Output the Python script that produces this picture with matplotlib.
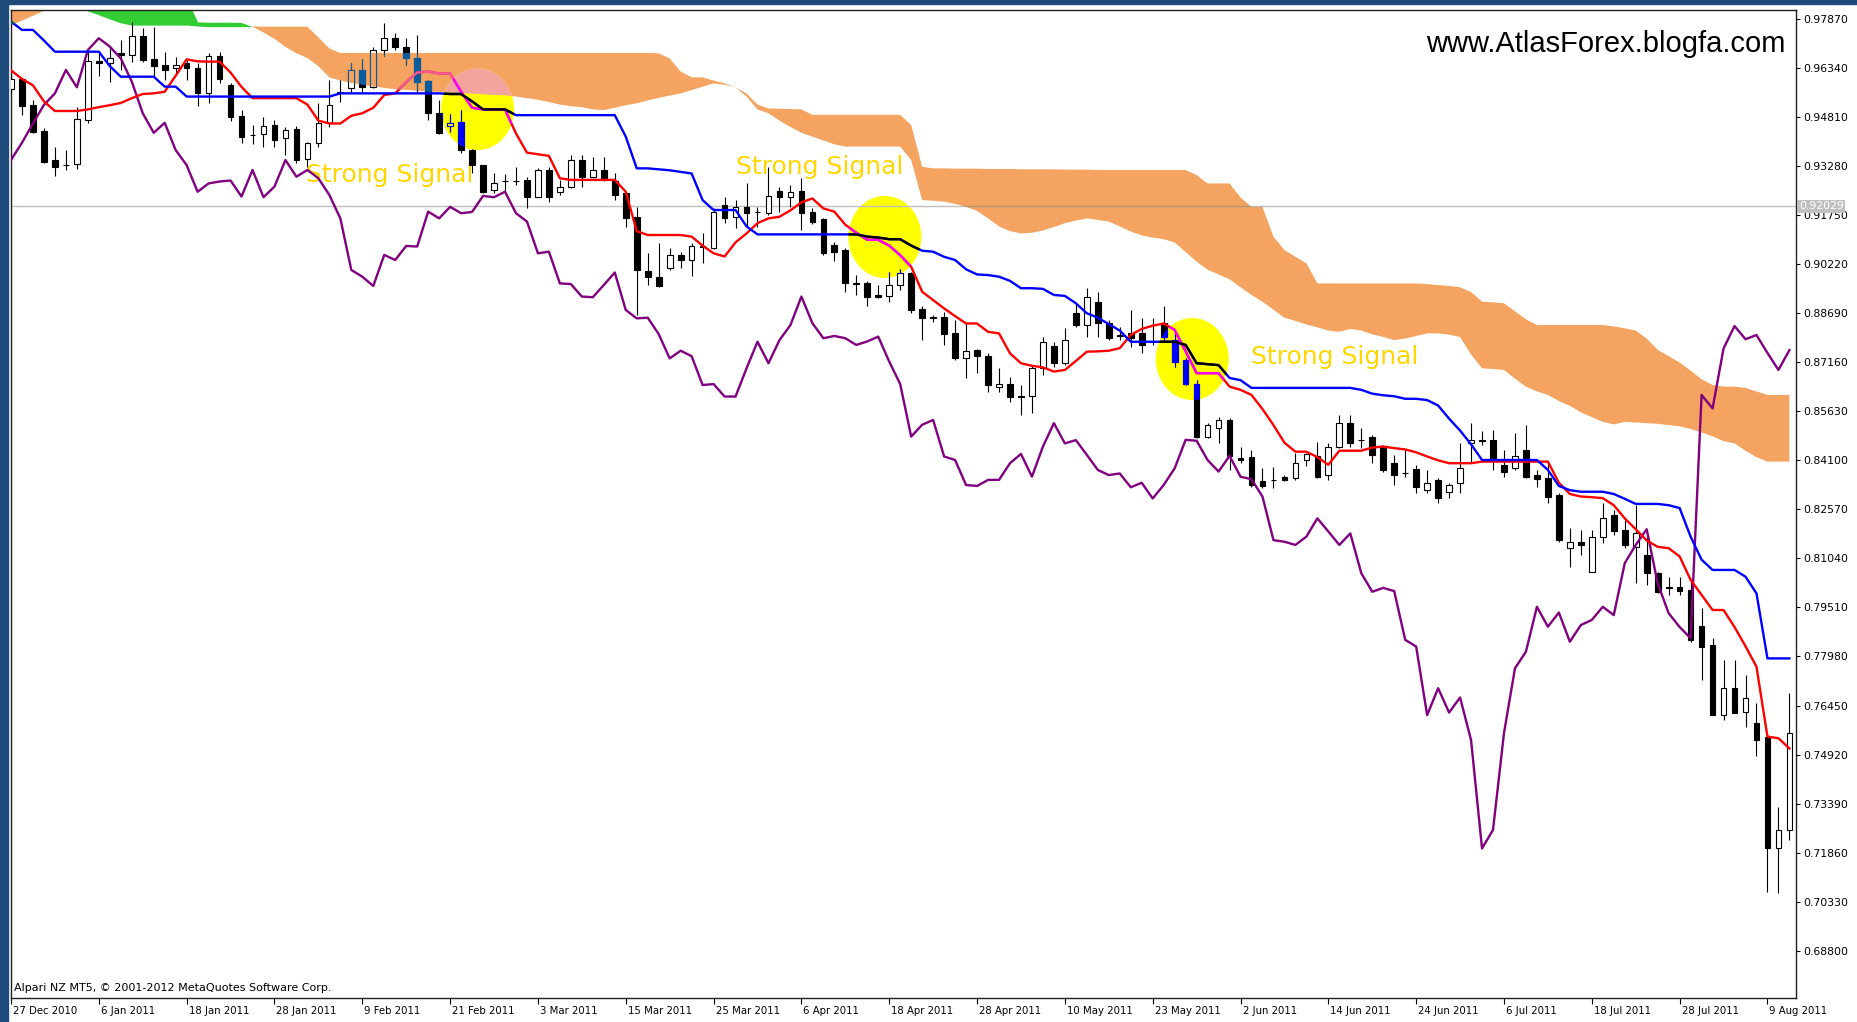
"""
Recreate an MT5 daily Ichimoku chart (27 Dec 2010 - 11 Aug 2011) with the
three 'Strong Signal' marks from www.AtlasForex.blogfa.com.
"""

import numpy as np
import matplotlib
matplotlib.use("Agg")
import matplotlib.pyplot as plt
from matplotlib import transforms
from matplotlib.patches import Ellipse, Rectangle
from matplotlib.path import Path

# Figure / plot geometry in pixels (dpi 100)
FIG_W, FIG_H = 1858, 1022
PLOT_LEFT, PLOT_RIGHT = 11, 1796
PLOT_TOP, PLOT_BOTTOM = 10, 998
XLIM = (0.0, 162.6)
YLIM = (0.67324, 0.98151)

# ---------------------------------------------------------------- data
bar_open = [
    0.9570, 0.9600, 0.9519, 0.9438, 0.9347, 0.9333, 0.9335, 0.9472, 0.9656, 0.9651,
    0.9680, 0.9675, 0.9734, 0.9661, 0.9643, 0.9633, 0.9649, 0.9633, 0.9555, 0.9672,
    0.9580, 0.9485, 0.9426, 0.9427, 0.9456, 0.9417, 0.9443, 0.9349, 0.9401, 0.9461,
    0.9560, 0.9571, 0.9628, 0.9574, 0.9690, 0.9727, 0.9701, 0.9666, 0.9595, 0.9493,
    0.9454, 0.9466, 0.9378, 0.9331, 0.9253, 0.9282, 0.9281, 0.9285, 0.9233, 0.9316,
    0.9248, 0.9264, 0.9347, 0.9295, 0.9316, 0.9280, 0.9243, 0.9170, 0.9002, 0.8983,
    0.9009, 0.9051, 0.9035, 0.9078, 0.9072, 0.9207, 0.9168, 0.9201, 0.9186, 0.9181,
    0.9251, 0.9231, 0.9250, 0.9186, 0.9162, 0.9082, 0.9066, 0.8962, 0.8962, 0.8925,
    0.8923, 0.8957, 0.8996, 0.8881, 0.8858, 0.8858, 0.8806, 0.8728, 0.8754, 0.8735,
    0.8638, 0.8648, 0.8611, 0.8611, 0.8697, 0.8768, 0.8713, 0.8869, 0.8832, 0.8905,
    0.8838, 0.8800, 0.8806, 0.8806, 0.8780, 0.8840, 0.8785, 0.8723, 0.8648, 0.8482,
    0.8510, 0.8536, 0.8416, 0.8419, 0.8344, 0.8348, 0.8359, 0.8354, 0.8411, 0.8424,
    0.8364, 0.8453, 0.8526, 0.8474, 0.8484, 0.8455, 0.8401, 0.8370, 0.8382, 0.8317,
    0.8349, 0.8312, 0.8338, 0.8463, 0.8472, 0.8472, 0.8396, 0.8385, 0.8442, 0.8364,
    0.8354, 0.8302, 0.8136, 0.8156, 0.8063, 0.8172, 0.8240, 0.8193, 0.8141, 0.8115,
    0.8058, 0.8014, 0.8014, 0.8006, 0.7893, 0.7834, 0.7615, 0.7699, 0.7626, 0.7589,
    0.7548, 0.7199, 0.7257,
]
bar_high = [
    0.9615, 0.9602, 0.9534, 0.9446, 0.9389, 0.9378, 0.9513, 0.9685, 0.9680, 0.9701,
    0.9721, 0.9779, 0.9758, 0.9763, 0.9685, 0.9670, 0.9659, 0.9649, 0.9680, 0.9685,
    0.9586, 0.9503, 0.9456, 0.9482, 0.9472, 0.9451, 0.9453, 0.9404, 0.9524, 0.9597,
    0.9597, 0.9649, 0.9661, 0.9701, 0.9776, 0.9742, 0.9727, 0.9737, 0.9597, 0.9534,
    0.9490, 0.9503, 0.9381, 0.9331, 0.9305, 0.9303, 0.9326, 0.9295, 0.9321, 0.9326,
    0.9285, 0.9362, 0.9362, 0.9357, 0.9357, 0.9305, 0.9248, 0.9201, 0.9056, 0.9087,
    0.9072, 0.9061, 0.9089, 0.9118, 0.9196, 0.9233, 0.9222, 0.9274, 0.9201, 0.9326,
    0.9264, 0.9269, 0.9290, 0.9196, 0.9165, 0.9092, 0.9072, 0.8988, 0.8968, 0.8957,
    0.8999, 0.9006, 0.8999, 0.8892, 0.8865, 0.8874, 0.8848, 0.8838, 0.8756, 0.8744,
    0.8697, 0.8671, 0.8645, 0.8707, 0.8796, 0.8780, 0.8822, 0.8900, 0.8947, 0.8936,
    0.8848, 0.8827, 0.8879, 0.8853, 0.8853, 0.8891, 0.8806, 0.8728, 0.8661, 0.8526,
    0.8546, 0.8541, 0.8453, 0.8442, 0.8385, 0.8390, 0.8364, 0.8432, 0.8434, 0.8468,
    0.8463, 0.8552, 0.8552, 0.8510, 0.8489, 0.8458, 0.8427, 0.8442, 0.8395, 0.8380,
    0.8354, 0.8338, 0.8463, 0.8526, 0.8500, 0.8505, 0.8442, 0.8494, 0.8520, 0.8380,
    0.8401, 0.8307, 0.8198, 0.8193, 0.8193, 0.8276, 0.8255, 0.8224, 0.8271, 0.8172,
    0.8063, 0.8047, 0.8047, 0.8037, 0.7949, 0.7855, 0.7787, 0.7787, 0.7740, 0.7652,
    0.7548, 0.7329, 0.7683,
]
bar_low = [
    0.9555, 0.9488, 0.9430, 0.9337, 0.9297, 0.9316, 0.9318, 0.9464, 0.9609, 0.9592,
    0.9628, 0.9654, 0.9654, 0.9607, 0.9597, 0.9612, 0.9597, 0.9516, 0.9524, 0.9586,
    0.9470, 0.9399, 0.9397, 0.9389, 0.9389, 0.9363, 0.9337, 0.9326, 0.9389, 0.9451,
    0.9529, 0.9555, 0.9560, 0.9571, 0.9672, 0.9690, 0.9643, 0.9557, 0.9472, 0.9428,
    0.9435, 0.9368, 0.9305, 0.9243, 0.9243, 0.9243, 0.9269, 0.9196, 0.9231, 0.9217,
    0.9238, 0.9259, 0.9264, 0.9290, 0.9280, 0.9222, 0.9139, 0.8864, 0.8957, 0.8952,
    0.9004, 0.9009, 0.8985, 0.9025, 0.9068, 0.9150, 0.9134, 0.9139, 0.9139, 0.9176,
    0.9186, 0.9201, 0.9129, 0.9148, 0.9051, 0.9033, 0.8936, 0.8926, 0.8892, 0.8915,
    0.8905, 0.8942, 0.8869, 0.8785, 0.8843, 0.8770, 0.8723, 0.8666, 0.8683, 0.8624,
    0.8624, 0.8593, 0.8552, 0.8557, 0.8676, 0.8702, 0.8708, 0.8827, 0.8796, 0.8796,
    0.8785, 0.8785, 0.8765, 0.8744, 0.8770, 0.8785, 0.8702, 0.8645, 0.8479, 0.8479,
    0.8463, 0.8380, 0.8401, 0.8328, 0.8323, 0.8323, 0.8344, 0.8349, 0.8393, 0.8354,
    0.8349, 0.8448, 0.8453, 0.8448, 0.8401, 0.8375, 0.8333, 0.8359, 0.8307, 0.8307,
    0.8276, 0.8291, 0.8307, 0.8401, 0.8458, 0.8380, 0.8359, 0.8380, 0.8354, 0.8328,
    0.8276, 0.8156, 0.8078, 0.8115, 0.8063, 0.8151, 0.8177, 0.8136, 0.8026, 0.8021,
    0.7995, 0.7990, 0.7990, 0.7844, 0.7725, 0.7615, 0.7600, 0.7621, 0.7579, 0.7486,
    0.7064, 0.7059, 0.7226,
]
bar_close = [
    0.9600, 0.9516, 0.9436, 0.9342, 0.9326, 0.9330, 0.9474, 0.9656, 0.9651, 0.9664,
    0.9675, 0.9734, 0.9659, 0.9640, 0.9628, 0.9645, 0.9633, 0.9555, 0.9672, 0.9599,
    0.9482, 0.9420, 0.9424, 0.9454, 0.9410, 0.9441, 0.9347, 0.9401, 0.9461, 0.9519,
    0.9555, 0.9628, 0.9574, 0.9690, 0.9727, 0.9701, 0.9664, 0.9592, 0.9493, 0.9432,
    0.9463, 0.9378, 0.9331, 0.9248, 0.9274, 0.9280, 0.9283, 0.9233, 0.9316, 0.9231,
    0.9264, 0.9347, 0.9295, 0.9316, 0.9290, 0.9238, 0.9165, 0.9004, 0.8983, 0.8954,
    0.9051, 0.9035, 0.9079, 0.9077, 0.9186, 0.9165, 0.9201, 0.9181, 0.9185, 0.9235,
    0.9231, 0.9248, 0.9181, 0.9155, 0.9056, 0.9061, 0.8962, 0.8960, 0.8921, 0.8919,
    0.8957, 0.8996, 0.8879, 0.8853, 0.8855, 0.8804, 0.8728, 0.8752, 0.8735, 0.8645,
    0.8648, 0.8609, 0.8609, 0.8697, 0.8780, 0.8713, 0.8785, 0.8832, 0.8921, 0.8838,
    0.8791, 0.8798, 0.8791, 0.8770, 0.8781, 0.8796, 0.8718, 0.8648, 0.8484, 0.8521,
    0.8536, 0.8422, 0.8411, 0.8333, 0.8330, 0.8349, 0.8349, 0.8401, 0.8430, 0.8359,
    0.8453, 0.8526, 0.8463, 0.8473, 0.8427, 0.8380, 0.8364, 0.8369, 0.8326, 0.8340,
    0.8291, 0.8333, 0.8385, 0.8474, 0.8471, 0.8411, 0.8375, 0.8424, 0.8359, 0.8351,
    0.8297, 0.8161, 0.8156, 0.8146, 0.8172, 0.8229, 0.8188, 0.8146, 0.8182, 0.8058,
    0.8000, 0.8012, 0.8002, 0.7850, 0.7829, 0.7615, 0.7699, 0.7623, 0.7670, 0.7537,
    0.7199, 0.7257, 0.7559,
]

# Tenkan-sen (red) and Kijun-sen (blue)
tenkan = [
    0.9627, 0.9600, 0.9580, 0.9530, 0.9500, 0.9500, 0.9500, 0.9505, 0.9512, 0.9518,
    0.9525, 0.9540, 0.9553, 0.9555, 0.9560, 0.9610, 0.9661, 0.9655, 0.9654, 0.9654,
    0.9620, 0.9575, 0.9540, 0.9540, 0.9540, 0.9540, 0.9540, 0.9520, 0.9470, 0.9461,
    0.9461, 0.9485, 0.9493, 0.9510, 0.9550, 0.9555, 0.9590, 0.9620, 0.9623, 0.9617,
    0.9617, 0.9560, 0.9510, 0.9505, 0.9505, 0.9505, 0.9430, 0.9370, 0.9365, 0.9360,
    0.9290, 0.9285, 0.9285, 0.9285, 0.9285, 0.9285, 0.9248, 0.9125, 0.9113, 0.9113,
    0.9113, 0.9113, 0.9108, 0.9080, 0.9056, 0.9046, 0.9090, 0.9118, 0.9150, 0.9165,
    0.9170, 0.9190, 0.9215, 0.9227, 0.9196, 0.9186, 0.9145, 0.9120, 0.9098, 0.9098,
    0.9080, 0.9050, 0.9014, 0.8936, 0.8910, 0.8884, 0.8860, 0.8837, 0.8837, 0.8811,
    0.8806, 0.8744, 0.8713, 0.8705, 0.8700, 0.8687, 0.8692, 0.8720, 0.8749, 0.8750,
    0.8752, 0.8760, 0.8801, 0.8820, 0.8830, 0.8837, 0.8817, 0.8750, 0.8682, 0.8682,
    0.8682, 0.8640, 0.8630, 0.8614, 0.8570, 0.8520, 0.8465, 0.8437, 0.8437, 0.8420,
    0.8396, 0.8440, 0.8440, 0.8440, 0.8450, 0.8453, 0.8448, 0.8444, 0.8435, 0.8422,
    0.8410, 0.8401, 0.8401, 0.8401, 0.8406, 0.8406, 0.8406, 0.8406, 0.8406, 0.8406,
    0.8406, 0.8340, 0.8305, 0.8297, 0.8295, 0.8292, 0.8270, 0.8229, 0.8195, 0.8160,
    0.8140, 0.8136, 0.8110, 0.8037, 0.7990, 0.7943, 0.7943, 0.7890, 0.7830, 0.7766,
    0.7548, 0.7543, 0.7511,
]
kijun = [
    0.9779, 0.9753, 0.9753, 0.9720, 0.9685, 0.9685, 0.9685, 0.9685, 0.9685, 0.9640,
    0.9607, 0.9607, 0.9607, 0.9607, 0.9576, 0.9576, 0.9545, 0.9545, 0.9545, 0.9545,
    0.9545, 0.9545, 0.9545, 0.9545, 0.9545, 0.9545, 0.9545, 0.9545, 0.9545, 0.9545,
    0.9555, 0.9555, 0.9555, 0.9555, 0.9555, 0.9555, 0.9555, 0.9555, 0.9555, 0.9555,
    0.9553, 0.9553, 0.9530, 0.9505, 0.9505, 0.9505, 0.9487, 0.9487, 0.9487, 0.9487,
    0.9487, 0.9487, 0.9487, 0.9487, 0.9487, 0.9487, 0.9420, 0.9321, 0.9321, 0.9318,
    0.9315, 0.9310, 0.9305, 0.9222, 0.9191, 0.9191, 0.9191, 0.9140, 0.9115, 0.9115,
    0.9115, 0.9115, 0.9115, 0.9115, 0.9115, 0.9115, 0.9115, 0.9115, 0.9108, 0.9105,
    0.9100, 0.9100, 0.9080, 0.9064, 0.9061, 0.9045, 0.9035, 0.9006, 0.8990, 0.8988,
    0.8983, 0.8970, 0.8947, 0.8947, 0.8945, 0.8926, 0.8923, 0.8900, 0.8869, 0.8855,
    0.8835, 0.8815, 0.8780, 0.8780, 0.8780, 0.8780, 0.8780, 0.8770, 0.8713, 0.8710,
    0.8707, 0.8667, 0.8660, 0.8636, 0.8636, 0.8636, 0.8636, 0.8636, 0.8636, 0.8636,
    0.8636, 0.8636, 0.8636, 0.8630, 0.8618, 0.8613, 0.8610, 0.8602, 0.8602, 0.8598,
    0.8581, 0.8540, 0.8503, 0.8460, 0.8411, 0.8411, 0.8411, 0.8411, 0.8411, 0.8411,
    0.8380, 0.8330, 0.8317, 0.8312, 0.8312, 0.8312, 0.8305, 0.8290, 0.8274, 0.8274,
    0.8274, 0.8270, 0.8261, 0.8172, 0.8100, 0.8068, 0.8068, 0.8068, 0.8047, 0.7995,
    0.7792, 0.7792, 0.7792,
]

# Senkou span A / B as seen on the chart (already shifted forward)
span_a = [
    0.9768, 0.9782, 0.9797, 0.9813, 0.9845, 0.9870, 0.9870, 0.9870, 0.9870, 0.9870,
    0.9870, 0.9870, 0.9870, 0.9870, 0.9870, 0.9870, 0.9850, 0.9778, 0.9777, 0.9777,
    0.9777, 0.9776, 0.9763, 0.9745, 0.9725, 0.9700, 0.9680, 0.9665, 0.9640, 0.9605,
    0.9595, 0.9588, 0.9582, 0.9577, 0.9572, 0.9568, 0.9566, 0.9563, 0.9560, 0.9560,
    0.9558, 0.9556, 0.9554, 0.9552, 0.9550, 0.9549, 0.9545, 0.9540, 0.9535, 0.9528,
    0.9520, 0.9515, 0.9512, 0.9505, 0.9503, 0.9510, 0.9518, 0.9524, 0.9533, 0.9541,
    0.9548, 0.9555, 0.9565, 0.9576, 0.9586, 0.9582, 0.9574, 0.9545, 0.9505, 0.9493,
    0.9470, 0.9450, 0.9432, 0.9420, 0.9408, 0.9396, 0.9389, 0.9389, 0.9389, 0.9389,
    0.9389, 0.9389, 0.9347, 0.9222, 0.9220, 0.9217, 0.9210, 0.9201, 0.9188, 0.9165,
    0.9140, 0.9125, 0.9118, 0.9120, 0.9127, 0.9138, 0.9150, 0.9158, 0.9165, 0.9160,
    0.9155, 0.9140, 0.9124, 0.9112, 0.9105, 0.9100, 0.9090, 0.9060, 0.9030, 0.9005,
    0.8990, 0.8975, 0.8950, 0.8926, 0.8905, 0.8880, 0.8855, 0.8845, 0.8834, 0.8825,
    0.8815, 0.8811, 0.8820, 0.8815, 0.8803, 0.8795, 0.8785, 0.8790, 0.8798, 0.8806,
    0.8806, 0.8802, 0.8795, 0.8740, 0.8697, 0.8695, 0.8692, 0.8665, 0.8640, 0.8625,
    0.8614, 0.8595, 0.8580, 0.8560, 0.8545, 0.8530, 0.8522, 0.8530, 0.8528, 0.8526,
    0.8524, 0.8520, 0.8516, 0.8508, 0.8497, 0.8485, 0.8470, 0.8463, 0.8440, 0.8420,
    0.8406, 0.8406, 0.8406,
]
span_b = [
    0.9860, 0.9860, 0.9860, 0.9860, 0.9860, 0.9850, 0.9835, 0.9812, 0.9800, 0.9787,
    0.9775, 0.9768, 0.9768, 0.9768, 0.9768, 0.9768, 0.9768, 0.9765, 0.9763, 0.9763,
    0.9763, 0.9763, 0.9764, 0.9763, 0.9763, 0.9763, 0.9763, 0.9763, 0.9730, 0.9695,
    0.9681, 0.9681, 0.9681, 0.9681, 0.9681, 0.9681, 0.9681, 0.9681, 0.9681, 0.9681,
    0.9681, 0.9681, 0.9681, 0.9681, 0.9681, 0.9681, 0.9681, 0.9681, 0.9681, 0.9681,
    0.9681, 0.9681, 0.9681, 0.9681, 0.9681, 0.9681, 0.9681, 0.9681, 0.9681, 0.9680,
    0.9664, 0.9623, 0.9605, 0.9605, 0.9595, 0.9586, 0.9574, 0.9555, 0.9520, 0.9508,
    0.9507, 0.9506, 0.9505, 0.9488, 0.9488, 0.9488, 0.9488, 0.9488, 0.9488, 0.9488,
    0.9488, 0.9488, 0.9456, 0.9326, 0.9321, 0.9321, 0.9320, 0.9320, 0.9320, 0.9319,
    0.9319, 0.9319, 0.9318, 0.9318, 0.9318, 0.9318, 0.9317, 0.9317, 0.9317, 0.9316,
    0.9316, 0.9316, 0.9316, 0.9316, 0.9316, 0.9316, 0.9316, 0.9316, 0.9300, 0.9274,
    0.9274, 0.9274, 0.9230, 0.9201, 0.9201, 0.9108, 0.9066, 0.9045, 0.9025, 0.8962,
    0.8962, 0.8962, 0.8962, 0.8962, 0.8962, 0.8962, 0.8962, 0.8962, 0.8962, 0.8960,
    0.8957, 0.8954, 0.8950, 0.8935, 0.8905, 0.8903, 0.8900, 0.8875, 0.8850, 0.8832,
    0.8832, 0.8832, 0.8832, 0.8832, 0.8832, 0.8832, 0.8828, 0.8822, 0.8815, 0.8790,
    0.8755, 0.8735, 0.8715, 0.8690, 0.8663, 0.8645, 0.8640, 0.8640, 0.8636, 0.8625,
    0.8614, 0.8614, 0.8614,
]

# Closes after the visible window, only seen through the lagging (chikou) line
chikou_tail = [
    0.7761, 0.7813, 0.7953, 0.7891, 0.7935, 0.7844, 0.7896, 0.7912, 0.7953, 0.7927,
    0.8089, 0.8146, 0.8195, 0.8026, 0.7933, 0.7890, 0.7855, 0.8614, 0.8572, 0.8759,
    0.8829, 0.8788, 0.8801, 0.8745, 0.8692, 0.8754,
]
CHIKOU_SHIFT = 26

date_labels = [
    "27 Dec 2010", "6 Jan 2011", "18 Jan 2011", "28 Jan 2011", "9 Feb 2011",
    "21 Feb 2011", "3 Mar 2011", "15 Mar 2011", "25 Mar 2011", "6 Apr 2011",
    "18 Apr 2011", "28 Apr 2011", "10 May 2011", "23 May 2011", "2 Jun 2011",
    "14 Jun 2011", "24 Jun 2011", "6 Jul 2011", "18 Jul 2011", "28 Jul 2011",
    "9 Aug 2011",
]
DATE_STEP = 8  # bars between date labels

price_ticks = [
    0.97870, 0.96340, 0.94810, 0.93280, 0.91750, 0.90220, 0.88690, 0.87160,
    0.85630, 0.84100, 0.82570, 0.81040, 0.79510, 0.77980, 0.76450, 0.74920,
    0.73390, 0.71860, 0.70330, 0.68800,
]
CURRENT_PRICE = 0.92029

# Annotations: circle centres (bar, price) and text anchors (bar, baseline price)
signal_circles = [(42.5, 0.9506), (79.6, 0.9107), (107.6, 0.8726)]
signal_texts = [(26.9, 0.9278), (66.0, 0.9303), (113.0, 0.8711)]
CIRCLE_W_PX, CIRCLE_H_PX = 73, 82

# Colours (MT5 paints objects XOR-style, so colours change over cloud / circles)
ORANGE = "#F4A460"
GREEN = "#32CD32"
YELLOW = "#FFFF00"
NORMAL = dict(dark="#000000", light="#FFFFFF", tenkan="#FF0000", kijun="#0000FF")
OVER_CLOUD = dict(dark="#0B5B9F", light=ORANGE, tenkan="#F45B9F", kijun="#0B5B60")
OVER_CIRCLE = dict(dark="#0000FF", light=YELLOW, tenkan="#FF00FF", kijun="#000000")
LINE_W = 1.7


def draw_candles(ax, pal, z, clip=None):
    x = np.arange(len(bar_close))
    o = np.array(bar_open)
    c = np.array(bar_close)
    lo, hi = np.minimum(o, c), np.maximum(o, c)
    wicks = ax.vlines(x, bar_low, bar_high, colors=pal["dark"], linewidth=0.8, zorder=z)
    faces = [pal["light"] if up else pal["dark"] for up in (c > o)]
    bodies = ax.bar(x, hi - lo, bottom=lo, width=0.52, color=faces,
                    edgecolor=pal["dark"], linewidth=0.8, zorder=z + 0.05)
    if clip is not None:
        wicks.set_clip_path(clip, ax.transData)
        for b in bodies:
            b.set_clip_path(clip, ax.transData)


def draw_lines(ax, pal, z, clip=None):
    x = np.arange(len(tenkan))
    l1, = ax.plot(x, tenkan, color=pal["tenkan"], lw=LINE_W, zorder=z)
    l2, = ax.plot(x, kijun, color=pal["kijun"], lw=LINE_W, zorder=z + 0.01)
    if clip is not None:
        l1.set_clip_path(clip, ax.transData)
        l2.set_clip_path(clip, ax.transData)


def main():
    plt.rcParams["font.family"] = "DejaVu Sans"
    fig = plt.figure(figsize=(FIG_W / 100, FIG_H / 100), dpi=100)
    fig.patch.set_facecolor("white")

    plot_w = PLOT_RIGHT - PLOT_LEFT
    plot_h = PLOT_BOTTOM - PLOT_TOP
    ax = fig.add_axes([PLOT_LEFT / FIG_W, 1 - PLOT_BOTTOM / FIG_H,
                       plot_w / FIG_W, plot_h / FIG_H])
    ax.set_xlim(*XLIM)
    ax.set_ylim(*YLIM)

    # dark blue window frame (left and top)
    fig.add_artist(Rectangle((0, 0), 8 / FIG_W, 1, transform=fig.transFigure,
                             color="#1F4A7C", zorder=0))
    fig.add_artist(Rectangle((0, 1 - 4 / FIG_H), 1, 4 / FIG_H, transform=fig.transFigure,
                             color="#1F4A7C", zorder=0))

    x = np.arange(len(bar_close))
    a = np.array(span_a)
    b = np.array(span_b)

    # Kumo cloud
    orange = ax.fill_between(x, a, b, where=b >= a, interpolate=True,
                             color=ORANGE, lw=0, zorder=1)
    ax.fill_between(x, a, b, where=a > b, interpolate=True, color=GREEN, lw=0, zorder=1)
    cloud_path = Path.make_compound_path(*orange.get_paths())

    # yellow signal circles (pixel-round ellipses in data units)
    cw = CIRCLE_W_PX * (XLIM[1] - XLIM[0]) / plot_w
    ch = CIRCLE_H_PX * (YLIM[1] - YLIM[0]) / plot_h
    circle_paths = []
    for cx, cy in signal_circles:
        e = Ellipse((cx, cy), cw, ch, fc=YELLOW, ec="none", zorder=1.5)
        ax.add_patch(e)
        circle_paths.append(e.get_patch_transform().transform_path(e.get_path()))
    circle_path = Path.make_compound_path(*circle_paths)

    # cloud seen through a circle turns pink
    pink = ax.fill_between(x, a, b, where=b >= a, interpolate=True,
                           color="#F4A49F", lw=0, zorder=1.6)
    pink.set_clip_path(circle_path, ax.transData)

    # current price line
    ax.axhline(CURRENT_PRICE, color="#C0C0C0", lw=1.0, zorder=1.7)
    grey_in_cloud = ax.axhline(CURRENT_PRICE, color="#C0945E", lw=1.0, zorder=1.75)
    grey_in_cloud.set_clip_path(cloud_path, ax.transData)

    # signal labels (under the candles)
    for tx, ty in signal_texts:
        ax.text(tx, ty, "Strong Signal", color="#FFD700", fontsize=18,
                ha="left", va="baseline", zorder=2)

    # candles and indicator lines, with XOR-like recolouring over cloud / circles
    draw_candles(ax, NORMAL, 3)
    draw_candles(ax, OVER_CLOUD, 3.2, clip=cloud_path)
    draw_candles(ax, OVER_CIRCLE, 3.4, clip=circle_path)

    chikou = np.concatenate([np.array(bar_close)[CHIKOU_SHIFT:], chikou_tail])
    ax.plot(x, chikou, color="#800080", lw=LINE_W, zorder=4)
    draw_lines(ax, NORMAL, 4.1)
    draw_lines(ax, OVER_CLOUD, 4.3, clip=cloud_path)
    draw_lines(ax, OVER_CIRCLE, 4.5, clip=circle_path)

    # axes styling: price scale on the right, dates below
    for sp in ax.spines.values():
        sp.set_color("#202020")
        sp.set_linewidth(1.0)
    ax.yaxis.tick_right()
    ax.set_yticks(price_ticks)
    ax.set_yticklabels([f"{v:.5f}" for v in price_ticks])
    ax.tick_params(axis="y", length=3, width=0.8, pad=2, labelsize=7.8, colors="black")

    ax.set_xticks(np.arange(len(date_labels)) * DATE_STEP)
    ax.set_xticklabels(date_labels)
    ax.tick_params(axis="x", length=4, width=0.8, pad=2, labelsize=7.3, colors="black")
    shift = transforms.ScaledTranslation(2 / 100, 0, fig.dpi_scale_trans)
    for lab in ax.get_xticklabels():
        lab.set_horizontalalignment("left")
        lab.set_transform(lab.get_transform() + shift)

    # current price tag on the scale
    tag_tr = transforms.blended_transform_factory(ax.transAxes, ax.transData)
    ax.text(1 + 3 / plot_w, CURRENT_PRICE, f"{CURRENT_PRICE:.5f}", transform=tag_tr,
            ha="left", va="center", fontsize=7.8, color="white", clip_on=False,
            zorder=10, bbox=dict(boxstyle="square,pad=0.15", fc="#C0C0C0", ec="none"))

    # watermark and copyright
    fig.text(1785 / FIG_W, 1 - 52 / FIG_H, "www.AtlasForex.blogfa.com", color="black",
             fontsize=21, family="Liberation Sans", ha="right", va="baseline")
    fig.text(14 / FIG_W, 1 - 991 / FIG_H,
             "Alpari NZ MT5, \u00a9 2001-2012 MetaQuotes Software Corp.",
             fontsize=8.0, ha="left", va="baseline", color="black")

    fig.savefig("out.png", dpi=100, facecolor="white")


if __name__ == "__main__":
    main()
